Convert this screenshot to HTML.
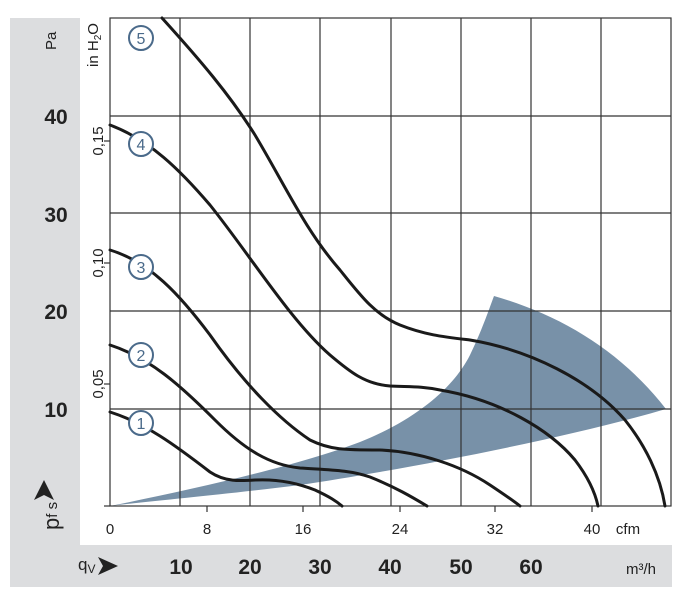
<!DOCTYPE html>
<html><head><meta charset="utf-8"><style>
body{margin:0;background:#fff;width:696px;height:606px;overflow:hidden}
svg text{font-family:"Liberation Sans",sans-serif}
</style></head><body>
<svg width="696" height="606" viewBox="0 0 696 606" xmlns="http://www.w3.org/2000/svg">
<rect x="10" y="18" width="70" height="569" fill="#dcdddf"/>
<rect x="10" y="545" width="662" height="42" fill="#dcdddf"/>
<rect x="80" y="18" width="592" height="527" fill="#fff"/>
<!-- shaded region -->
<path d="M110,506 C200,488 300,465 360,442 C420,418 455,385 470,355 C482,330 488,312 494,296 C560,315 620,350 666,409 C560,440 400,470 300,485 C220,495 160,500 110,506 Z" fill="#7891a8"/>
<!-- grid -->
<g stroke="#333" stroke-width="1.2" fill="none">
<rect x="110" y="18" width="561" height="488"/>
<line x1="180" y1="18" x2="180" y2="506"/><line x1="250" y1="18" x2="250" y2="506"/>
<line x1="320" y1="18" x2="320" y2="506"/><line x1="391" y1="18" x2="391" y2="506"/>
<line x1="461" y1="18" x2="461" y2="506"/><line x1="531" y1="18" x2="531" y2="506"/>
<line x1="601" y1="18" x2="601" y2="506"/>
<line x1="110" y1="116" x2="671" y2="116"/><line x1="110" y1="213" x2="671" y2="213"/>
<line x1="110" y1="311" x2="671" y2="311"/><line x1="110" y1="409" x2="671" y2="409"/>
<line x1="104" y1="141" x2="110" y2="141"/><line x1="104" y1="263" x2="110" y2="263"/><line x1="104" y1="384" x2="110" y2="384"/>
<line x1="104" y1="506" x2="110" y2="506"/>
<line x1="207" y1="506" x2="207" y2="512"/><line x1="303" y1="506" x2="303" y2="512"/>
<line x1="400" y1="506" x2="400" y2="512"/><line x1="495" y1="506" x2="495" y2="512"/><line x1="592" y1="506" x2="592" y2="512"/>
</g>
<!-- curves -->
<g stroke="#1a1a1a" stroke-width="3" fill="none" stroke-linecap="round">
<path d="M162,18 C200,60 230,95 255,135 C285,185 305,230 340,270 C360,295 375,315 400,325 C425,335 445,337 470,340 C530,350 590,380 625,420 C645,445 660,475 665,506"/>
<path d="M110,125 C150,140 180,170 210,205 C250,255 290,320 330,355 C350,372 365,384 390,386 C410,387 420,386 440,390 C500,400 550,430 575,460 C588,477 595,492 598,506"/>
<path d="M110,250 C150,262 180,295 210,335 C245,385 280,420 310,440 C330,450 345,450 380,450 C420,452 460,465 490,485 C505,495 515,502 520,506"/>
<path d="M110,345 C150,358 180,385 215,420 C245,450 270,465 300,468 C330,470 350,470 370,477 C395,487 412,497 427,506"/>
<path d="M110,412 C145,423 175,445 210,472 C225,482 240,481 255,480 C275,479 295,482 315,490 C330,497 336,501 342,506"/>
</g>
<g fill="#fff" stroke="#4a6a8a" stroke-width="2">
<circle cx="141" cy="38" r="12"/><circle cx="141" cy="144" r="12"/><circle cx="141" cy="267" r="12"/>
<circle cx="141" cy="355" r="12"/><circle cx="141" cy="423" r="12"/>
</g>
<g fill="#4a6a8a" font-size="16" text-anchor="middle">
<text x="141" y="44">5</text><text x="141" y="150">4</text><text x="141" y="273">3</text><text x="141" y="361">2</text><text x="141" y="429">1</text>
</g>
<!-- left labels -->
<g fill="#222" font-size="21" text-anchor="middle" font-weight="bold">
<text x="56" y="124">40</text><text x="56" y="222">30</text><text x="56" y="319">20</text><text x="56" y="417">10</text>
</g>
<text transform="translate(56,50) rotate(-90)" font-size="15" fill="#222">Pa</text>
<g fill="#222" font-size="15" text-anchor="middle">
<text transform="translate(103,141) rotate(-90)">0,15</text>
<text transform="translate(103,263) rotate(-90)">0,10</text>
<text transform="translate(103,384) rotate(-90)">0,05</text>
<text transform="translate(98,45) rotate(-90)">in H<tspan font-size="10" dy="3">2</tspan><tspan dy="-3">O</tspan></text>
</g>
<text transform="translate(59,530) rotate(-90)" font-size="22" fill="#222">p<tspan font-size="15" dy="-2">f s</tspan></text>
<path d="M42,480 L52,500 L42,495 L32,500 Z" fill="#222" transform="translate(2,0)"/>
<!-- bottom -->
<g fill="#222" font-size="15" text-anchor="middle">
<text x="110" y="534">0</text><text x="207" y="534">8</text><text x="303" y="534">16</text>
<text x="400" y="534">24</text><text x="495" y="534">32</text><text x="592" y="534">40</text>
<text x="628" y="534">cfm</text>
</g>
<g fill="#222" font-size="21" font-weight="bold" text-anchor="middle">
<text x="181" y="574">10</text><text x="250" y="574">20</text><text x="320" y="574">30</text>
<text x="390" y="574">40</text><text x="461" y="574">50</text><text x="531" y="574">60</text>
</g>
<text x="641" y="574" font-size="15" fill="#222" text-anchor="middle">m³/h</text>
<text x="78" y="570" font-size="17" fill="#222">q<tspan font-size="12" dy="3">V</tspan></text>
<path d="M98,557 L118,566 L98,575 L103,566 Z" fill="#222"/>
</svg>
</body></html>
